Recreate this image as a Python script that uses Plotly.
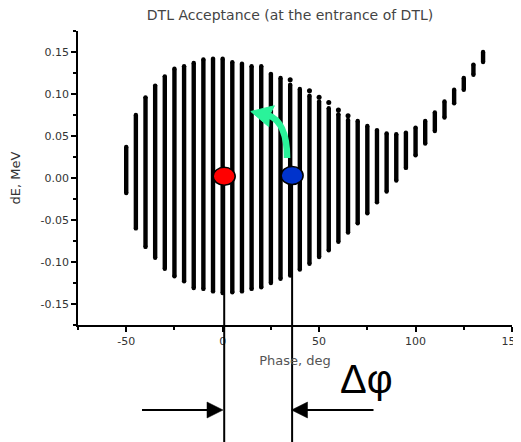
import plotly.graph_objects as go

# ---- data ----
phase = [-50, -45, -40, -35, -30, -25, -20, -15, -10, -5, 0, 5, 10, 15, 20, 25, 30,
         35, 40, 45, 50, 55, 60, 65, 70, 75, 80, 85, 90, 95, 100, 105, 110, 115,
         120, 125, 130, 135]
dE_top = [0.037, 0.075, 0.096, 0.110, 0.121, 0.130, 0.133, 0.137, 0.141, 0.142,
          0.142, 0.138, 0.136, 0.133, 0.133, 0.124, 0.119, 0.111, 0.106, 0.098,
          0.091, 0.083, 0.076, 0.069, 0.068, 0.062, 0.057, 0.053, 0.052, 0.054,
          0.060, 0.068, 0.078, 0.091, 0.105, 0.119, 0.135, 0.150]
dE_bottom = [-0.018, -0.060, -0.082, -0.095, -0.108, -0.117, -0.123, -0.131, -0.132,
             -0.135, -0.137, -0.136, -0.135, -0.132, -0.130, -0.125, -0.120, -0.116,
             -0.109, -0.102, -0.094, -0.086, -0.076, -0.065, -0.054, -0.042, -0.029,
             -0.016, -0.003, 0.012, 0.027, 0.041, 0.056, 0.072, 0.089, 0.105, 0.123,
             0.138]
# isolated points above some columns
dot_phase = [35, 45, 50, 55, 60, 65]
dot_dE = [0.117, 0.104, 0.096, 0.090, 0.081, 0.074]

# reference particles (red = synchronous, blue = shifted)
ref_phase = [0.8, 36.0]
ref_dE = [0.002, 0.003]
ref_colors = ["#ff0000", "#0033cc"]

x_ticks = [-50, 0, 50, 100, 150]
x_ticktext = ["-50", "0", "50", "100", "150"]
y_ticks = [-0.15, -0.10, -0.05, 0.00, 0.05, 0.10, 0.15]
y_ticktext = ["-0.15", "-0.10", "-0.05", "0.00", "0.05", "0.10", "0.15"]

# ---- figure (page has an 8px body margin) ----
OFF = 8
W, H = 521, 442
ML, MR, MT, MB = 78, 9, 31, 117
XR = [-75, 150]
YR = [-0.175, 0.175]
pw, ph = W - ML - MR, H - MT - MB
px_per_deg = pw / (XR[1] - XR[0])
px_per_mev = ph / (YR[1] - YR[0])
FONT = "DejaVu Sans, Liberation Sans, Arial, sans-serif"


def to_paper_y(v):
    return (v - YR[0]) / (YR[1] - YR[0])


bx, by = [], []
for p, lo, hi in zip(phase, dE_bottom, dE_top):
    bx += [p, p, None]
    by += [lo, hi, None]

fig = go.Figure()
fig.add_trace(go.Scatter(x=bx, y=by, mode="lines",
                         line=dict(color="black", width=4.4),
                         hoverinfo="skip", showlegend=False))
# round caps
fig.add_trace(go.Scatter(x=phase + phase, y=dE_top + dE_bottom, mode="markers",
                         marker=dict(color="black", size=4.4, line=dict(width=0)),
                         hoverinfo="skip", showlegend=False))
fig.add_trace(go.Scatter(x=dot_phase, y=dot_dE, mode="markers",
                         marker=dict(color="black", size=5, line=dict(width=0)),
                         hoverinfo="skip", showlegend=False))

shapes = []
# vertical reference lines down to the bottom of the picture
for p, e in zip(ref_phase, ref_dE):
    shapes.append(dict(type="line", xref="x", yref="paper", x0=p, x1=p,
                       y0=to_paper_y(e), y1=-(MB + 5) / ph,
                       line=dict(color="black", width=2), layer="above"))
# ellipses for reference particles
rx, ry = 11 / px_per_deg, 9 / px_per_mev
for p, e, c in zip(ref_phase, ref_dE, ref_colors):
    shapes.append(dict(type="circle", xref="x", yref="y",
                       x0=p - rx, x1=p + rx, y0=e - ry, y1=e + ry,
                       fillcolor=c, line=dict(color="black", width=1.5),
                       layer="above"))

# green curved arrow
green = "#2af39a"
shapes.append(dict(type="path", xref="x", yref="y",
                   path="M 33.4,0.0238 Q 33.4,0.0667 23.5,0.075",
                   line=dict(color=green, width=6.5), layer="above"))
shapes.append(dict(type="path", xref="x", yref="y",
                   path="M 14.6,0.0792 L 26.8,0.0860 L 24.2,0.0745 L 23.9,0.0610 Z",
                   fillcolor=green, line=dict(color=green, width=1), layer="above"))

# horizontal Δφ arrows (in paper y)
y_arr = -(410 - (H - MB)) / ph
hh = 8 / ph
head = 16 / px_per_deg
gap = 1.2 / px_per_deg
# left arrow -> pointing right at the red line
tipL = ref_phase[0] - gap
shapes.append(dict(type="line", xref="x", yref="paper",
                   x0=tipL - (224 - 143) / px_per_deg, x1=tipL - head * 0.6,
                   y0=y_arr, y1=y_arr, line=dict(color="black", width=2)))
shapes.append(dict(type="path", xref="x", yref="paper",
                   path=f"M {tipL},{y_arr} L {tipL - head},{y_arr + hh} L {tipL - head},{y_arr - hh} Z",
                   fillcolor="black", line=dict(color="black", width=0.5)))
# right arrow <- pointing left at the blue line
tipR = ref_phase[1] - gap * 0.5
shapes.append(dict(type="line", xref="x", yref="paper",
                   x0=tipR + head * 0.6, x1=tipR + (374 - 292) / px_per_deg,
                   y0=y_arr, y1=y_arr, line=dict(color="black", width=2)))
shapes.append(dict(type="path", xref="x", yref="paper",
                   path=f"M {tipR},{y_arr} L {tipR + head},{y_arr + hh} L {tipR + head},{y_arr - hh} Z",
                   fillcolor="black", line=dict(color="black", width=0.5)))

FW, FH = W - OFF, H - OFF
fig.update_layout(
    width=FW, height=FH,
    margin=dict(l=ML - OFF, r=MR, t=MT - OFF, b=MB, autoexpand=False),
    paper_bgcolor="white", plot_bgcolor="white",
    font=dict(family=FONT, color="#333", size=11),
    title=dict(text="DTL Acceptance (at the entrance of DTL)",
               x=(290 - OFF) / FW, xanchor="center",
               y=1 - (15 - OFF) / FH, yanchor="middle",
               font=dict(size=14, color="#444", family=FONT)),
    shapes=shapes,
    showlegend=False,
    annotations=[dict(text="Δφ", xref="paper", yref="paper",
                      x=(366 - ML) / pw, y=-(379 - (H - MB)) / ph,
                      xanchor="center", yanchor="middle", showarrow=False,
                      font=dict(size=40, color="black",
                                family="Liberation Sans, Arial, sans-serif"))],
)
fig.update_xaxes(range=XR, tickvals=x_ticks, ticktext=x_ticktext,
                 ticks="outside", ticklen=5,
                 tickwidth=1.5, tickcolor="black", automargin=False,
                 ticklabeloverflow="allow",
                 showline=True, linecolor="black", linewidth=1.5,
                 showgrid=False, zeroline=False,
                 minor=dict(dtick=25, tick0=0, ticks="outside", ticklen=3,
                            tickcolor="black", tickwidth=1.5),
                 title=dict(text="Phase, deg", standoff=9,
                            font=dict(size=13, color="#555", family=FONT)),
                 tickfont=dict(size=11, color="#333", family=FONT))
fig.update_yaxes(range=YR, tickvals=y_ticks, ticktext=y_ticktext,
                 ticks="outside",
                 ticklen=5, tickwidth=1.5, tickcolor="black", automargin=False,
                 showline=True, linecolor="black", linewidth=1.5,
                 showgrid=False, zeroline=False,
                 minor=dict(dtick=0.025, tick0=0, ticks="outside", ticklen=3,
                            tickcolor="black", tickwidth=1.5),
                 title=dict(text="dE, MeV", standoff=18,
                            font=dict(size=13, color="#333", family=FONT)),
                 tickfont=dict(size=11, color="#333", family=FONT))

fig.write_html("out.html")
